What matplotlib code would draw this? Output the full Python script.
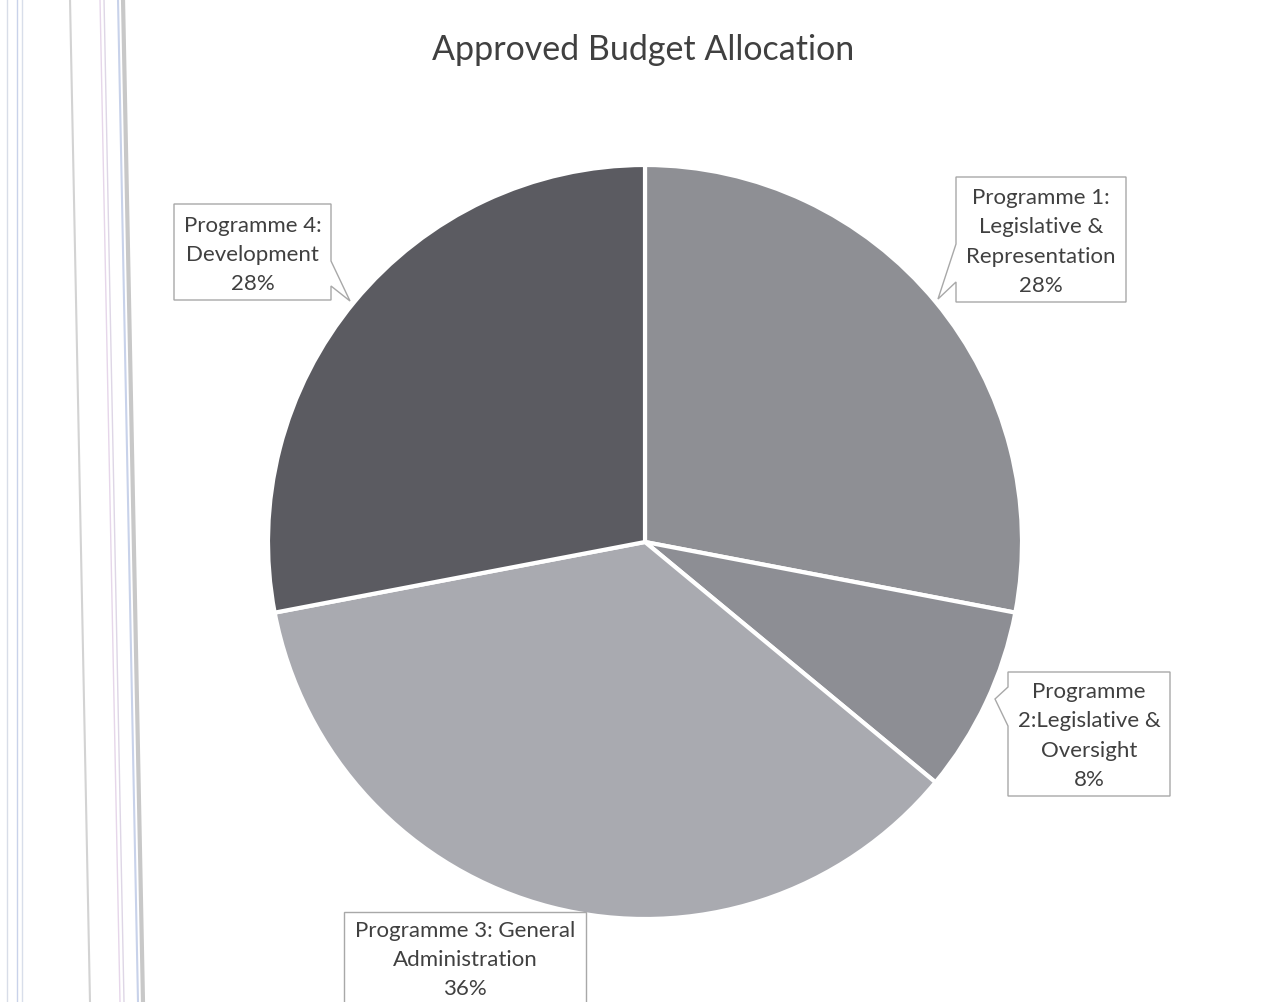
import matplotlib.pyplot as plt
from matplotlib.patches import Polygon

# data
labels = ["Programme 1:\nLegislative &\nRepresentation",
          "Programme\n2:Legislative &\nOversight",
          "Programme 3: General\nAdministration",
          "Programme 4:\nDevelopment"]
shares = [28, 8, 36, 28]
colors = ["#8e8f94", "#8d8e94", "#a9aab0", "#5b5b61"]

# callout boxes (pixel coords, y from top): box x0, y0, x1, y1, pointer, text centre y
callouts = [
    dict(box=(956, 178, 1126, 303), ptr=[(956, 245), (938, 300), (956, 283)], side="left", ty=242),
    dict(box=(1008, 673, 1170, 797), ptr=[(1008, 688), (995, 700), (1008, 727)], side="left", ty=736),
    dict(box=(344, 913, 586, 1012), ptr=None, side=None, ty=960),
    dict(box=(174, 205, 331, 301), ptr=[(331, 262), (350, 302), (331, 287)], side="right", ty=255),
]

W, H = 1270, 1003
fig = plt.figure(figsize=(W / 100, H / 100), dpi=100)
ax = fig.add_axes([0, 0, 1, 1])

font = "Lato"
txtc = "#404040"

# scan streaks at the left edge
for x, c, lw in [(7, "#d8dde8", 1), (17, "#c9d2ea", 1), (22, "#d8deea", 1),
                 (70, "#d3d3d3", 1.5), (100, "#e6d6ea", 1), (104, "#ded6e6", 1),
                 (118, "#c8d2ea", 1.5), (123, "#c8c8c8", 3)]:
    ax.plot([x, x + 20 * (x > 60)], [H, 0], color=c, lw=lw, zorder=0)

cx, cy, r = 645, H - 543, 377
ax.pie(shares, colors=colors, startangle=90, counterclock=False,
       center=(cx, cy), radius=r, frame=True,
       wedgeprops=dict(edgecolor="white", linewidth=3))
ax.set_xlim(0, W)
ax.set_ylim(0, H)
ax.set_aspect("equal")
ax.axis("off")

ax.text(643, H - 50, "Approved Budget Allocation", ha="center", va="center",
        fontsize=24.5, color=txtc, family=font)

for lab, val, co in zip(labels, shares, callouts):
    x0, y0, x1, y1 = co["box"]
    pts = [(x0, y0), (x1, y0)]
    if co["side"] == "right":
        pts += co["ptr"]
    pts += [(x1, y1), (x0, y1)]
    if co["side"] == "left":
        pts += co["ptr"][::-1]
    pts = [(px, H - py) for px, py in pts]
    ax.add_patch(Polygon(pts, closed=True, facecolor="white", edgecolor="#a8a8a8",
                         lw=1, zorder=5))
    ax.text((x0 + x1) / 2, H - co["ty"], f"{lab}\n{val}%", ha="center", va="center",
            fontsize=16, color=txtc, family=font, linespacing=1.58, zorder=6)

fig.savefig("out.png", dpi=100)
